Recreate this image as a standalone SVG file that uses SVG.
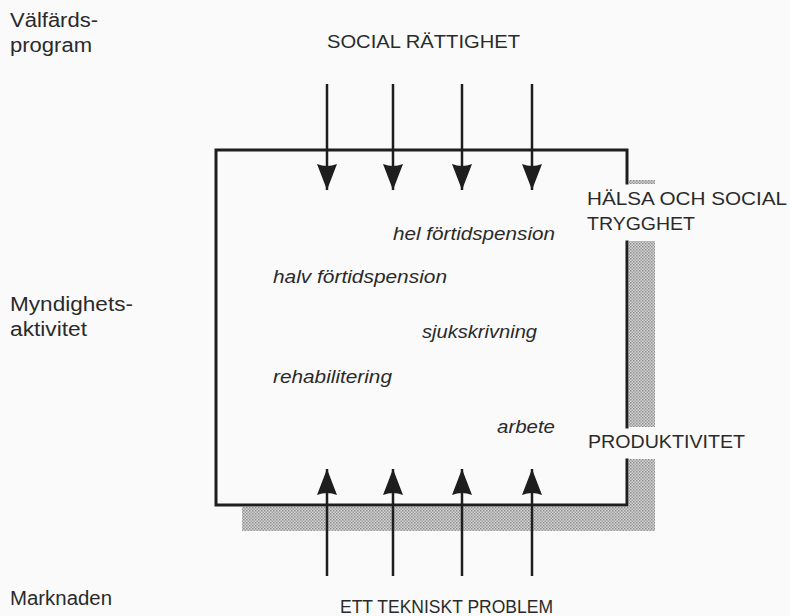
<svg xmlns="http://www.w3.org/2000/svg" width="790" height="616" viewBox="0 0 790 616">
  <defs>
    <pattern id="dots" width="3" height="3" patternUnits="userSpaceOnUse">
      <rect width="3" height="3" fill="#d4d4d4"/>
      <rect width="1.5" height="1.5" fill="#8e8e8e"/>
      <rect x="1.5" y="1.5" width="1.5" height="1.5" fill="#9e9e9e"/>
    </pattern>
    <marker id="head" viewBox="0 0 26 20" refX="26" refY="10" markerWidth="26" markerHeight="20" markerUnits="userSpaceOnUse" orient="auto">
      <path d="M0,0 L26,10 L0,20 Q4,10 0,0 Z" fill="#1e1e1e"/>
    </marker>
    <style>
      .lbl { font-family: "Liberation Sans", Arial, sans-serif; font-size: 19px; fill: #2a2a2a; }
      .side { font-family: "Liberation Sans", Arial, sans-serif; font-size: 20px; fill: #2a2a2a; }
      .it { font-family: "Liberation Sans", Arial, sans-serif; font-size: 19px; font-style: italic; fill: #2a2a2a; }
      .box { fill: none; stroke: #1e1e1e; stroke-width: 3; stroke-linecap: square; }
      .arr { fill: none; stroke: #1e1e1e; stroke-width: 2.5; marker-end: url(#head); }
      .shade { fill: url(#dots); }
    </style>
  </defs>
  <rect width="790" height="616" fill="#fafafa"/>

  <g id="shadow">
    <rect class="shade" x="629" y="180" width="26" height="4"/>
    <rect class="shade" x="629" y="241" width="26" height="186"/>
    <rect class="shade" x="629" y="459" width="26" height="72"/>
    <rect class="shade" x="242" y="507" width="413" height="24"/>
  </g>

  <g id="box">
    <path class="box" d="M627,183 L627,150 L216,150 L216,505 L627,505 L627,460"/>
    <path class="box" d="M627,242 L627,427"/>
  </g>

  <g id="connectors">
    <line class="arr" x1="327" y1="84" x2="327" y2="190"/>
    <line class="arr" x1="393" y1="84" x2="393" y2="190"/>
    <line class="arr" x1="462" y1="84" x2="462" y2="190"/>
    <line class="arr" x1="532" y1="84" x2="532" y2="190"/>
    <line class="arr" x1="327" y1="576" x2="327" y2="469"/>
    <line class="arr" x1="393" y1="576" x2="393" y2="469"/>
    <line class="arr" x1="462" y1="576" x2="462" y2="469"/>
    <line class="arr" x1="532" y1="576" x2="532" y2="469"/>
  </g>

  <g id="left-labels">
    <text class="side" x="10" y="27" textLength="88" lengthAdjust="spacingAndGlyphs">Välfärds-</text>
    <text class="side" x="10" y="52" textLength="82" lengthAdjust="spacingAndGlyphs">program</text>
    <text class="side" x="10" y="311" textLength="123" lengthAdjust="spacingAndGlyphs">Myndighets-</text>
    <text class="side" x="10" y="336" textLength="77" lengthAdjust="spacingAndGlyphs">aktivitet</text>
    <text class="side" x="10" y="605" textLength="102" lengthAdjust="spacingAndGlyphs">Marknaden</text>
  </g>

  <g id="social-rattighet">
    <text class="lbl" x="327" y="48" textLength="193" lengthAdjust="spacingAndGlyphs">SOCIAL RÄTTIGHET</text>
  </g>
  <g id="tekniskt-problem">
    <text class="lbl" x="340" y="613" textLength="213" lengthAdjust="spacingAndGlyphs">ETT TEKNISKT PROBLEM</text>
  </g>
  <g id="halsa">
    <text class="lbl" x="587" y="205" textLength="200" lengthAdjust="spacingAndGlyphs">HÄLSA OCH SOCIAL</text>
    <text class="lbl" x="587" y="230" textLength="108" lengthAdjust="spacingAndGlyphs">TRYGGHET</text>
  </g>
  <g id="produktivitet">
    <text class="lbl" x="588" y="448" textLength="157" lengthAdjust="spacingAndGlyphs">PRODUKTIVITET</text>
  </g>

  <g id="hel-fortidspension"><text class="it" x="393" y="240" textLength="162" lengthAdjust="spacingAndGlyphs">hel förtidspension</text></g>
  <g id="halv-fortidspension"><text class="it" x="273" y="283" textLength="174" lengthAdjust="spacingAndGlyphs">halv förtidspension</text></g>
  <g id="sjukskrivning"><text class="it" x="422" y="338" textLength="115" lengthAdjust="spacingAndGlyphs">sjukskrivning</text></g>
  <g id="rehabilitering"><text class="it" x="273" y="383" textLength="119" lengthAdjust="spacingAndGlyphs">rehabilitering</text></g>
  <g id="arbete"><text class="it" x="497" y="433" textLength="58" lengthAdjust="spacingAndGlyphs">arbete</text></g>
</svg>
